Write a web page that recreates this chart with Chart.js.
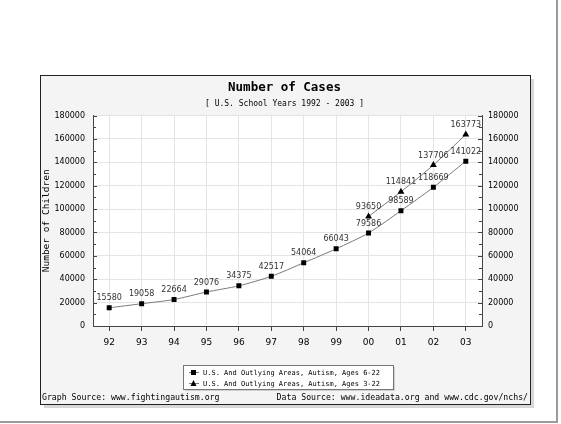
<!DOCTYPE html>
<html lang="en">
  <head>
    <meta charset="UTF-8" />
    <title>Number of Cases</title>
    <script src="https://cdn.jsdelivr.net/npm/chart.js@4.4.1/dist/chart.umd.min.js"></script>
    <style>
      html, body { margin: 0; padding: 0; background: #fff; }
    </style>
  </head>
  <body>
    <canvas id="chart" width="561" height="424"></canvas>
    <script>
      // school years 1992 - 2003
      const years = ["92", "93", "94", "95", "96", "97", "98", "99", "00", "01", "02", "03"];
      const ages6to22 = [15580, 19058, 22664, 29076, 34375, 42517, 54064, 66043, 79586, 98589, 118669, 141022];
      const ages3to22 = [null, null, null, null, null, null, null, null, 93650, 114841, 137706, 163773];
      const seriesNames = [
        "U.S. And Outlying Areas, Autism, Ages 6-22",
        "U.S. And Outlying Areas, Autism, Ages 3-22",
      ];
      const yMin = 0, yMax = 180000, yStep = 20000, yMinorStep = 10000;

      const mono = "'DejaVu Sans Mono', monospace";
      const sans = "'DejaVu Sans', sans-serif";

      // panel, frame and legend box behind everything
      const backdrop = {
        id: "backdrop",
        beforeDraw(chart) {
          const c = chart.ctx;
          const a = chart.chartArea;
          c.save();
          c.fillStyle = "#fff";
          c.fillRect(0, 0, 561, 424);
          // outer frame shadow
          c.fillStyle = "#9a9a9a";
          c.fillRect(556, 0, 2, 422);
          c.fillRect(0, 421, 558, 2);
          // panel shadow + panel
          c.fillStyle = "#d8d8d8";
          c.fillRect(44, 79, 490, 329);
          c.fillStyle = "#f4f4f4";
          c.fillRect(41, 76, 490, 329);
          c.strokeStyle = "#222";
          c.lineWidth = 1;
          c.strokeRect(40.5, 75.5, 490, 329);
          // plot background
          c.fillStyle = "#fff";
          c.fillRect(a.left, a.top, a.right - a.left, a.bottom - a.top);
          c.restore();
        },
        afterDraw(chart) {
          const c = chart.ctx;
          const a = chart.chartArea;
          c.save();
          // inward ticks on both value axes
          c.strokeStyle = "#444";
          c.lineWidth = 1;
          ["y", "y2"].forEach((id) => {
            const s = chart.scales[id];
            const x0 = id === "y" ? a.left : a.right;
            const dir = id === "y" ? 1 : -1;
            for (let v = yMin; v <= yMax; v += yMinorStep) {
              const py = Math.round(s.getPixelForValue(v)) + 0.5;
              const len = v % yStep === 0 ? 4 : 3;
              c.beginPath();
              c.moveTo(x0, py);
              c.lineTo(x0 + dir * len, py);
              c.stroke();
            }
          });
          // value labels above the points
          c.font = "8px " + sans;
          c.fillStyle = "#333";
          c.textAlign = "center";
          c.textBaseline = "middle";
          chart.data.datasets.forEach((ds, i) => {
            chart.getDatasetMeta(i).data.forEach((pt, j) => {
              if (ds.data[j] == null) return;
              c.fillText(String(ds.data[j]), pt.x, pt.y - 9.5);
            });
          });
          // legend box
          const lx = 183, ly = 365, lw = 210, lh = 24;
          c.fillStyle = "#cfcfcf";
          c.fillRect(lx + 2, ly + 2, lw, lh);
          c.fillStyle = "#fff";
          c.fillRect(lx, ly, lw, lh);
          c.strokeStyle = "#777";
          c.strokeRect(lx + 0.5, ly + 0.5, lw, lh);
          c.font = "7px " + mono;
          c.textAlign = "left";
          c.fillStyle = "#000";
          chart.data.datasets.forEach((ds, i) => {
            const ry = ly + 7 + i * 11;
            c.strokeStyle = ds.borderColor;
            c.beginPath();
            c.moveTo(lx + 6, ry + 0.5);
            c.lineTo(lx + 16, ry + 0.5);
            c.stroke();
            c.fillStyle = "#000";
            if (ds.pointStyle === "rect") {
              c.fillRect(lx + 8, ry - 2, 5, 5);
            } else {
              c.beginPath();
              c.moveTo(lx + 10.5, ry - 3);
              c.lineTo(lx + 13.5, ry + 3);
              c.lineTo(lx + 7.5, ry + 3);
              c.closePath();
              c.fill();
            }
            c.fillText(ds.label, lx + 20, ry + 1);
          });
          // source footers
          c.font = "8.2px " + mono;
          c.fillStyle = "#000";
          c.textAlign = "left";
          c.fillText("Graph Source: www.fightingautism.org", 42, 398);
          c.textAlign = "right";
          c.fillText("Data Source: www.ideadata.org and www.cdc.gov/nchs/", 528, 398);
          c.restore();
        },
      };

      const gridColor = "#e4e4e4";
      const axisColor = "#444";
      const plainNumber = (v) => String(v);

      new Chart(document.getElementById("chart").getContext("2d"), {
        type: "line",
        data: {
          labels: years,
          datasets: [
            {
              label: seriesNames[0],
              data: ages6to22,
              borderColor: "#7a7a7a",
              borderWidth: 1,
              backgroundColor: "#000",
              pointStyle: "rect",
              pointRadius: 3.5,
              pointBorderWidth: 0,
              tension: 0.25,
              fill: false,
            },
            {
              label: seriesNames[1],
              data: ages3to22,
              borderColor: "#7a7a7a",
              borderWidth: 1,
              backgroundColor: "#000",
              pointStyle: "triangle",
              pointRadius: 4,
              pointBorderWidth: 0,
              tension: 0.25,
              fill: false,
            },
          ],
        },
        options: {
          responsive: false,
          animation: false,
          events: [],
          layout: { padding: { top: 76, left: 38, right: 30, bottom: 74 } },
          plugins: {
            legend: { display: false },
            tooltip: { enabled: false },
            title: {
              display: true,
              text: "Number of Cases",
              color: "#000",
              font: { family: mono, size: 12.5, weight: "bold" },
              padding: { top: 4, bottom: 1 },
            },
            subtitle: {
              display: true,
              text: "[ U.S. School Years 1992 - 2003 ]",
              color: "#000",
              font: { family: mono, size: 8 },
              padding: { top: 3, bottom: 7 },
            },
          },
          scales: {
            x: {
              offset: true,
              grid: { color: gridColor, tickColor: axisColor, tickLength: 5, offset: false },
              border: { color: axisColor },
              ticks: { color: "#000", font: { family: sans, size: 9 }, padding: 6, maxRotation: 0 },
              afterFit: (s) => { s.height = 24; },
            },
            y: {
              position: "left",
              min: yMin,
              max: yMax,
              grid: { color: gridColor, drawTicks: false },
              border: { color: axisColor },
              ticks: { stepSize: yStep, color: "#000", font: { family: sans, size: 8 }, padding: 8, callback: plainNumber },
              title: {
                display: true,
                text: "Number of Children",
                color: "#000",
                font: { family: mono, size: 9.5 },
                padding: { top: 3, bottom: 0 },
              },
              afterFit: (s) => { s.width = 55; },
            },
            y2: {
              position: "right",
              min: yMin,
              max: yMax,
              grid: { drawOnChartArea: false, drawTicks: false },
              border: { color: axisColor },
              ticks: { stepSize: yStep, color: "#000", font: { family: sans, size: 8 }, padding: 6, callback: plainNumber },
              afterFit: (s) => { s.width = 49; },
            },
          },
        },
        plugins: [backdrop],
      });
    </script>
  </body>
</html>
